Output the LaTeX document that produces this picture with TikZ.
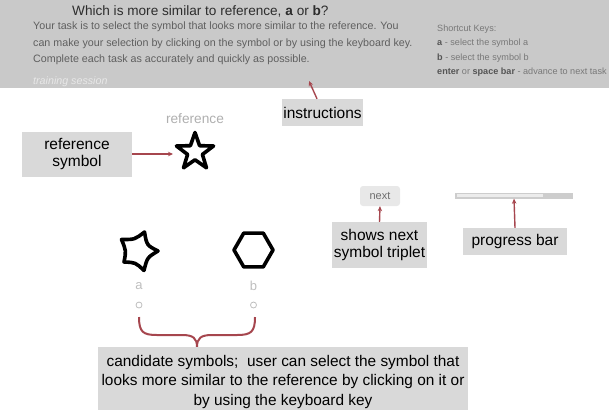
\documentclass[tikz,border=0pt]{standalone}
\usepackage{fontspec}
\setmainfont{Liberation Sans}
\usetikzlibrary{shapes.geometric,calc,arrows.meta}
\definecolor{bannergray}{RGB}{201,201,201}
\definecolor{lblgray}{RGB}{217,217,217}
\definecolor{titlegray}{RGB}{45,45,45}
\definecolor{bodygray}{RGB}{95,95,95}
\definecolor{keygray}{RGB}{120,120,120}
\definecolor{keybold}{RGB}{85,85,85}
\definecolor{traingray}{RGB}{232,232,232}
\definecolor{reftext}{RGB}{175,175,175}
\definecolor{faintgray}{RGB}{190,190,190}
\definecolor{arrred}{RGB}{166,70,78}
\definecolor{nextfill}{RGB}{232,232,232}
\definecolor{nexttext}{RGB}{110,110,110}
\definecolor{bardark}{RGB}{205,205,205}
\definecolor{barlight}{RGB}{236,236,236}
\tikzset{
  lbl/.style={fill=lblgray, inner sep=0pt, align=center, text=black,
    font=\fontsize{15.5}{17}\selectfont},
  arr/.style={draw=arrred, line width=1.4pt, -{Stealth[length=5pt,width=4.5pt]}},
  sym/.style={draw=black, line width=3.6pt, line join=round},
  bodytxt/.style={anchor=west, inner sep=0pt, text=bodygray, font=\fontsize{10.7}{12}\selectfont},
  keytxt/.style={anchor=west, inner sep=0pt, text=keygray, font=\fontsize{9.1}{10}\selectfont},
  faint/.style={text=faintgray, inner sep=0pt, font=\fontsize{13}{14}\selectfont},
  radio/.style={circle, draw=faintgray, line width=0.8pt, minimum size=6pt, inner sep=0pt},
}
\begin{document}
\begin{tikzpicture}[x=1pt,y=-1pt]
\useasboundingbox (0,0) rectangle (609,413);
% banner
\node[fill=bannergray, minimum width=609pt, minimum height=88pt, inner sep=0pt, anchor=north west] (banner) at (0,0) {};
\node[anchor=west, inner sep=0pt, text=titlegray, font=\fontsize{13.6}{15}\selectfont] (title) at (72,11)
  {Which is more similar to reference, \textbf{a} or \textbf{b}?};
\node[bodytxt] (body1) at (33,27) {Your task is to select the symbol that looks more similar to the reference. You};
\node[bodytxt] (body2) at (33,43.5) {can make your selection by clicking on the symbol or by using the keyboard key.};
\node[bodytxt] (body3) at (33,60) {Complete each task as accurately and quickly as possible.};
\node[bodytxt, text=traingray, font=\fontsize{10.7}{12}\selectfont\itshape] (train) at (33,82) {training session};
\node[keytxt] (key0) at (437,29) {Shortcut Keys:};
\node[keytxt] (key1) at (437,43.5) {\textcolor{keybold}{\textbf{a}} - select the symbol a};
\node[keytxt] (key2) at (437,58) {\textcolor{keybold}{\textbf{b}} - select the symbol b};
\node[keytxt] (key3) at (437,72.5) {\textcolor{keybold}{\textbf{enter}} or \textcolor{keybold}{\textbf{space bar}} - advance to next task};
% instructions
\node[lbl, minimum width=81pt, minimum height=27pt] (instr) at (322.5,112.5) {instructions};
\coordinate (instrtip) at (309,81);
\draw[arr] ([xshift=-5.5pt]instr.north) -- (instrtip);
% reference
\node[text=reftext, inner sep=0pt, font=\fontsize{13.7}{15}\selectfont] (reflbl) at (195,119) {reference};
\node[lbl, minimum width=110pt, minimum height=45pt] (refsym) at (77,154) {reference\\symbol};
\node[star, star points=5, star point ratio=2.5, sym, minimum size=39pt, inner sep=0pt] (star) at (195,152) {};
\coordinate (startip) at (173,154);
\draw[arr] (refsym.east) -- (startip);
% next button
\node[fill=nextfill, rounded corners=3pt, minimum width=40pt, minimum height=20pt, inner sep=0pt,
  text=nexttext, font=\fontsize{11}{12}\selectfont] (next) at (380,196) {next};
\node[lbl, minimum width=95pt, minimum height=46pt] (shows) at (379.5,245) {shows next\\symbol triplet};
\draw[arr] (shows.north) -- (next.south);
% progress bar
\node[fill=bardark, minimum width=118pt, minimum height=6pt, inner sep=0pt] (bar) at (514,195.5) {};
\fill[barlight] (457,194) rectangle (543,197);
\node[lbl, minimum width=104pt, minimum height=27pt] (prog) at (515,241.5) {progress bar};
\draw[arr] (prog.north) -- (bar.south);
% candidate a
\coordinate (ca) at (140,251);
\coordinate (a1) at (121.5,239.5);
\coordinate (a2) at (144.5,232);
\coordinate (a3) at (158,251);
\coordinate (a4) at (144,270.5);
\coordinate (a5) at (124,262);
\draw[sym] (a1) .. controls ($(a1)!.5!(a2)!.25!(ca)$) .. (a2)
  .. controls ($(a2)!.5!(a3)!.4!(ca)$) .. (a3)
  .. controls ($(a3)!.5!(a4)!.34!(ca)$) .. (a4)
  .. controls ($(a4)!.5!(a5)!.25!(ca)$) .. (a5)
  .. controls ($(a5)!.5!(a1)!.2!(ca)$) .. (a1) -- cycle;
% candidate b
\node[regular polygon, regular polygon sides=6, sym, minimum size=39pt, inner sep=0pt] (hexb) at (253.5,250) {};
\node[faint] (la) at (139,286) {a};
\node[faint] (lb) at (253.5,286) {b};
\node[radio] (ra) at (139,305) {};
\node[radio] (rb) at (253.5,305) {};
% brace
\coordinate (bl) at (139,317);
\coordinate (br) at (255,317);
\coordinate (btip) at (197,347);
\draw[draw=arrred, line width=2pt] (bl) .. controls (139,332) and (143,335) .. (157,335) -- (182,335)
  .. controls (193,335) and (197,338) .. (btip)
  .. controls (197,338) and (201,335) .. (212,335) -- (237,335)
  .. controls (251,335) and (255,332) .. (br);
\node[fill=lblgray, inner sep=0pt, minimum width=370pt, minimum height=63pt] (cand) at (283,378.5) {};
\node[align=center, inner sep=0pt, text=black, font=\fontsize{15.4}{19.5}\selectfont] (candtxt) at (283,382)
  {candidate symbols;\ \ user can select the symbol that\\looks more similar to the reference by clicking on it or\\by using the keyboard key};
\end{tikzpicture}
\end{document}
